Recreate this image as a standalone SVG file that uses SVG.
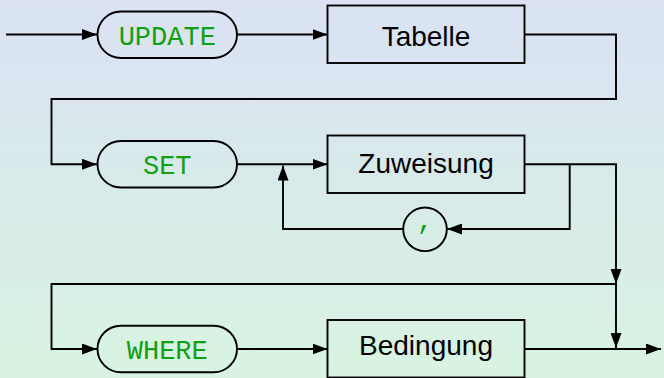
<svg xmlns="http://www.w3.org/2000/svg" width="664" height="378" viewBox="0 0 664 378">
<defs>
<linearGradient id="bg" x1="0" y1="0" x2="0" y2="1">
<stop offset="0" stop-color="#dae2f4"/>
<stop offset="0.5" stop-color="#d8eae9"/>
<stop offset="1" stop-color="#d8f4e1"/>
</linearGradient>
<marker id="arr" markerUnits="userSpaceOnUse" markerWidth="15" markerHeight="11" refX="15" refY="5.5" orient="auto">
<path d="M0,0 L15,5.5 L0,11 z" fill="#000"/>
</marker>
<style>
.shape{fill:none;stroke:#000;stroke-width:1.9}
.kw{font-family:"Liberation Mono","DejaVu Sans Mono",monospace;font-size:27px;fill:#10a010;text-anchor:middle}
.nt{font-family:"Liberation Sans","DejaVu Sans",sans-serif;font-size:28px;fill:#000;text-anchor:middle}
.conn path{fill:none;stroke:#000;stroke-width:1.9}
.conn path.a{marker-end:url(#arr)}
</style>
</defs>
<rect x="0" y="0" width="664" height="378" fill="url(#bg)"/>
<g class="conn" id="connectors">
<path class="a" d="M6,34.5 H97"/>
<path class="a" d="M237,34.5 H327.5"/>
<path class="a" d="M524.5,34.5 H616 V99 H51.5 V164.3 H97"/>
<path class="a" d="M237,164.3 H327.5"/>
<path class="a" d="M524.5,164.3 H616 V284"/>
<path class="a" d="M569.7,164.3 V229 H447"/>
<path class="a" d="M403,229 H283 V165.5"/>
<path class="a" d="M616,284 H51.5 V349 H97"/>
<path class="a" d="M616,284 V348"/>
<path class="a" d="M524.5,349 H661"/>
<path class="a" d="M237,349 H327.5"/>
</g>
<g id="update">
<rect class="shape" x="97.5" y="11.5" width="139.5" height="46.5" rx="23.25"/>
<text class="kw" x="167.25" y="44.5">UPDATE</text>
</g>
<g id="tabelle">
<rect class="shape" x="327.5" y="5.5" width="197" height="57.5"/>
<text class="nt" x="426" y="45.5">Tabelle</text>
</g>
<g id="set">
<rect class="shape" x="97.5" y="141" width="139.5" height="46.5" rx="23.25"/>
<text class="kw" x="167.25" y="174">SET</text>
</g>
<g id="zuweisung">
<rect class="shape" x="327.5" y="135.5" width="197" height="57.5"/>
<text class="nt" x="426" y="173">Zuweisung</text>
</g>
<g id="comma">
<circle class="shape" cx="425" cy="229.3" r="21.8"/>
<text class="kw" x="425" y="229">,</text>
</g>
<g id="where">
<rect class="shape" x="97.5" y="325.7" width="139.5" height="46.5" rx="23.25"/>
<text class="kw" x="167.25" y="358.5">WHERE</text>
</g>
<g id="bedingung">
<rect class="shape" x="327.5" y="320" width="197" height="57.5"/>
<text class="nt" x="426" y="355">Bedingung</text>
</g>
</svg>
